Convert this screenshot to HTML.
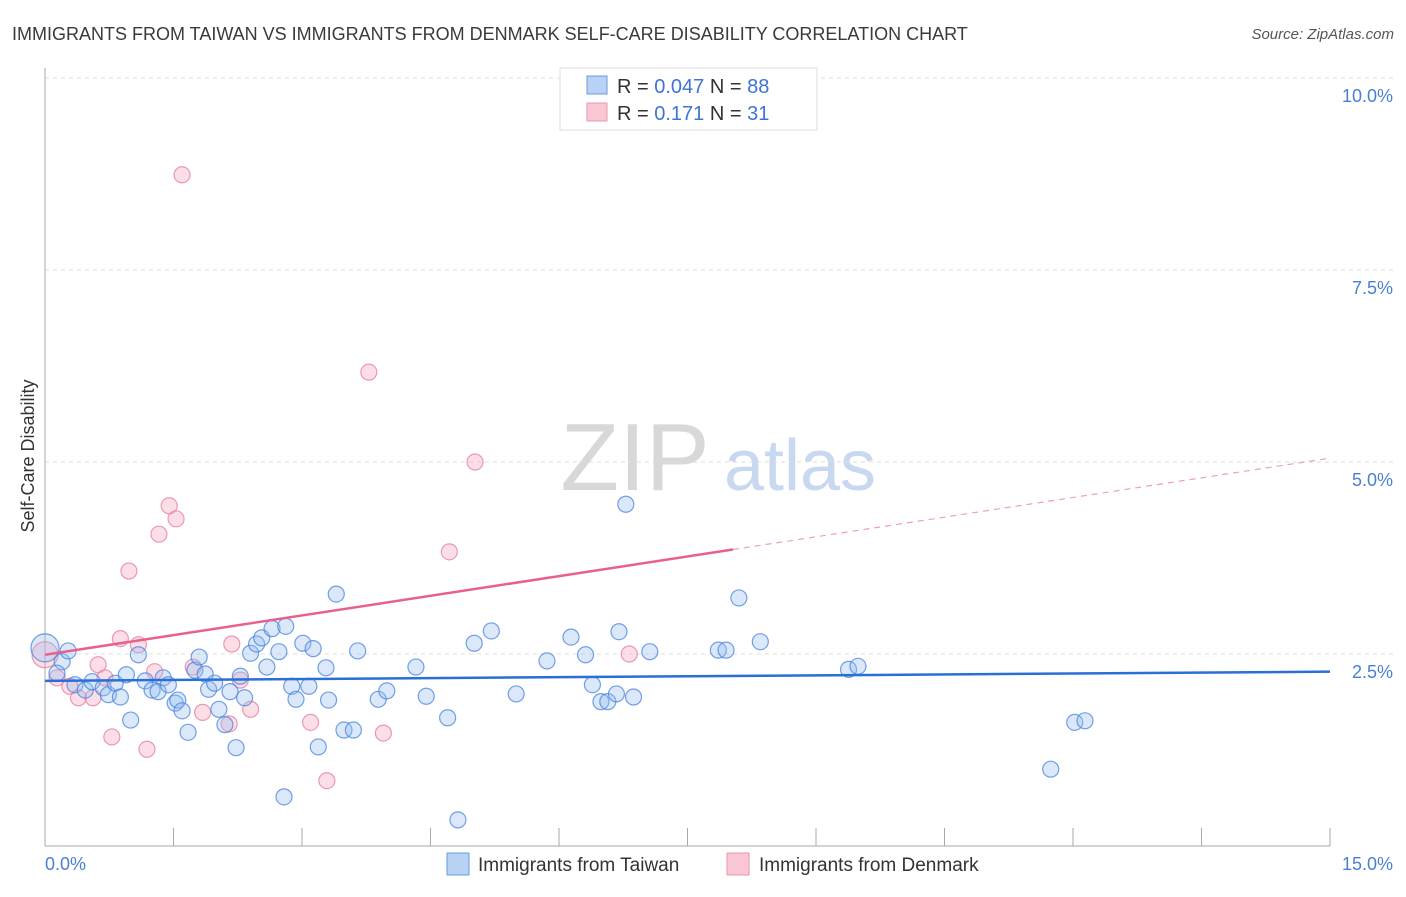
<!DOCTYPE html>
<html><head><meta charset="utf-8"><style>
body{margin:0;background:#fff;font-family:"Liberation Sans",sans-serif;}
svg text{font-family:"Liberation Sans",sans-serif;}
</style></head><body>
<svg id="c" width="1406" height="892" xmlns="http://www.w3.org/2000/svg">
<text x="12" y="40" font-size="18" fill="#3a3a3a">IMMIGRANTS FROM TAIWAN VS IMMIGRANTS FROM DENMARK SELF-CARE DISABILITY CORRELATION CHART</text>
<text x="1394" y="39" font-size="15" fill="#555" font-style="italic" text-anchor="end">Source: ZipAtlas.com</text>
<g><text x="635" y="490" font-size="96" fill="#d8d8d8" font-family="Liberation Serif" text-anchor="middle">ZIP</text><text x="800" y="490" font-size="72" fill="#c8d8f0" text-anchor="middle">atlas</text></g>
<g id="grid"></g><g id="axes"></g><g id="marks"></g>
<g>
<rect x="560" y="68" width="257" height="62" fill="#fff" stroke="#ddd"/>
<rect x="587" y="76" width="20" height="18" fill="#b8d2f5" stroke="#6a9ae0"/>
<rect x="587" y="103" width="20" height="18" fill="#f9c6d4" stroke="#e899b0"/>
<text x="617" y="93" font-size="20" fill="#333">R = <tspan fill="#3d74d6">0.047</tspan>   N = <tspan fill="#3d74d6">88</tspan></text>
<text x="617" y="120" font-size="20" fill="#333">R =  <tspan fill="#3d74d6"> 0.171</tspan>   N =  <tspan fill="#3d74d6">31</tspan></text>
</g>
<g>
<rect x="447" y="853" width="22" height="22" fill="#b8d2f5" stroke="#6a9ae0"/>
<text x="478" y="871" font-size="19" fill="#333">Immigrants from Taiwan</text>
<rect x="727" y="853" width="22" height="22" fill="#f9c6d4" stroke="#e899b0"/>
<text x="759" y="871" font-size="19" fill="#333">Immigrants from Denmark</text>
</g>
<text x="34" y="456" font-size="18" fill="#333" text-anchor="middle" transform="rotate(-90 34 456)">Self-Care Disability</text>
</svg>
<script>
const taiwanX=[0,0.2,0.27,0.14,0.35,0.47,0.55,0.68,0.74,0.82,0.88,0.95,1.0,1.09,1.17,1.25,1.32,1.38,1.44,1.52,1.55,1.60,1.67,1.75,1.80,1.87,1.91,1.98,2.03,2.10,2.16,2.23,2.28,2.33,2.40,2.47,2.53,2.59,2.65,2.73,2.79,2.81,2.88,2.93,3.01,3.08,3.13,3.19,3.28,3.31,3.40,3.49,3.60,3.65,3.89,3.99,4.33,4.45,4.70,4.82,5.01,5.21,5.50,5.86,6.14,6.31,6.39,6.49,6.57,6.67,6.70,6.87,6.78,7.06,7.86,7.95,8.10,8.35,9.38,9.49,11.74,12.02,12.14];
const taiwanY=[2.58,2.40,2.54,2.25,2.10,2.03,2.14,2.06,1.97,2.12,1.94,2.23,1.64,2.49,2.15,2.03,2.01,2.19,2.10,1.86,1.90,1.76,1.48,2.29,2.46,2.24,2.04,2.12,1.78,1.58,2.01,1.28,2.21,1.93,2.51,2.63,2.71,2.33,2.83,2.53,0.64,2.86,2.08,1.91,2.64,2.08,2.57,1.29,2.32,1.90,3.28,1.51,1.51,2.54,1.91,2.02,2.33,1.95,1.67,0.34,2.64,2.80,1.98,2.41,2.72,2.49,2.10,1.88,1.88,1.98,2.79,1.94,4.45,2.53,2.55,2.55,3.23,2.66,2.30,2.34,1.00,1.61,1.63];
const denmarkX=[0,0.14,0.29,0.39,0.56,0.62,0.70,0.78,0.88,0.98,1.09,1.19,1.28,1.33,1.45,1.53,1.60,1.73,1.84,2.15,2.18,2.28,2.40,3.10,3.29,3.78,3.95,4.72,5.02,6.82];
const denmarkY=[2.49,2.19,2.08,1.93,1.93,2.36,2.19,1.42,2.70,3.58,2.62,1.26,2.27,4.06,4.43,4.26,8.74,2.33,1.74,1.59,2.63,2.16,1.78,1.61,0.85,6.17,1.47,3.83,5.00,2.50];
const yTicks=[2.5,5.0,7.5,10.0];
const yTickLabels=["2.5%","5.0%","7.5%","10.0%"];
const xTicks=[0,1.5,3,4.5,6,7.5,9,10.5,12,13.5,15];
const taiwanTrend=[2.15,2.27];
const denmarkTrend=[2.49,5.05];
const denmarkSolidEnd=8.03;
const NS="http://www.w3.org/2000/svg";
const sx=v=>45+v/15*1285, sy=v=>846-v*76.8;
function mk(p,t,a){const e=document.createElementNS(NS,t);for(const k in a)e.setAttribute(k,a[k]);p.appendChild(e);return e;}
const grid=document.getElementById('grid'),axes=document.getElementById('axes'),marks=document.getElementById('marks');
yTicks.forEach((t,i)=>{
 const l=mk(grid,'line',{x1:45,x2:1394,y1:sy(t),y2:sy(t),stroke:'#ddd','stroke-dasharray':'4,4'});
 
 
 const tx=mk(axes,'text',{x:1393,y:sy(t)+24,'font-size':18,fill:'#4a7fd4','text-anchor':'end'});
 tx.textContent=yTickLabels[i];
 
 
});
mk(axes,'line',{x1:45,x2:45,y1:68,y2:846,stroke:'#aaa'});
mk(axes,'line',{x1:45,x2:1330,y1:846,y2:846,stroke:'#aaa'});
xTicks.forEach(t=>{const l=mk(axes,'line',{x1:sx(t),x2:sx(t),y1:828,y2:846,stroke:'#aaa'});
 
 });
const x0=mk(axes,'text',{x:45,y:870,'font-size':18,fill:'#4a7fd4'});x0.textContent='0.0%';


const x1=mk(axes,'text',{x:1393,y:870,'font-size':18,fill:'#4a7fd4','text-anchor':'end'});x1.textContent='15.0%';


denmarkX.forEach((x,i)=>{const c=mk(marks,'circle',{cx:sx(x),cy:sy(denmarkY[i]),r:i==0?13:8,fill:'rgba(245,160,185,0.35)',stroke:'rgba(230,130,160,0.8)','stroke-width':1.2});
 
 });
taiwanX.forEach((x,i)=>{const c=mk(marks,'circle',{cx:sx(x),cy:sy(taiwanY[i]),r:i==0?14:8,fill:'rgba(150,190,240,0.35)',stroke:'rgba(70,130,220,0.75)','stroke-width':1.2});
 
 });
const tl=mk(marks,'line',{x1:sx(0),x2:sx(15),y1:sy(taiwanTrend[0]),y2:sy(taiwanTrend[1]),stroke:'#2a6fd6','stroke-width':2.5});


const dAt=x=>denmarkTrend[0]+(denmarkTrend[1]-denmarkTrend[0])*x/15;
const dl=mk(marks,'line',{x1:sx(0),x2:sx(denmarkSolidEnd),y1:sy(dAt(0)),y2:sy(dAt(denmarkSolidEnd)),stroke:'#e8608c','stroke-width':2.5});


const dd=mk(marks,'line',{x1:sx(denmarkSolidEnd),x2:sx(15),y1:sy(dAt(denmarkSolidEnd)),y2:sy(dAt(15)),stroke:'#eaa0b8','stroke-width':1.2,'stroke-dasharray':'6,5'});


</script>
</body></html>
